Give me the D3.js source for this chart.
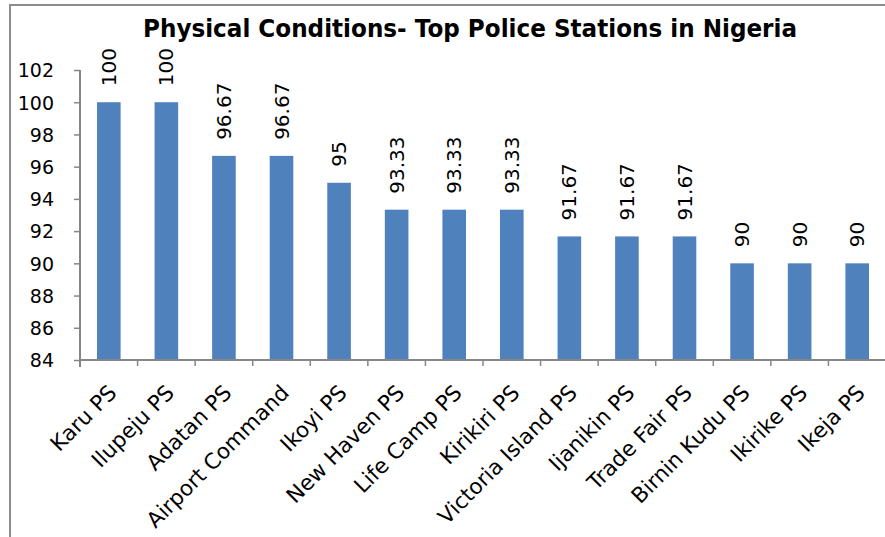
<!DOCTYPE html>
<html><head><meta charset="utf-8">
<script src="https://cdn.jsdelivr.net/npm/d3@7"></script>
<style>body{margin:0;background:#fff}svg{display:block}text{font-family:"DejaVu Sans",sans-serif;fill:#000}</style>
</head><body>
<svg id="c" width="885" height="537"></svg>
<script>
const categories = ["Karu PS","Ilupeju PS","Adatan PS","Airport Command","Ikoyi PS","New Haven PS","Life Camp PS","Kirikiri PS","Victoria Island PS","Ijanikin PS","Trade Fair PS","Birnin Kudu PS","Ikirike PS","Ikeja PS"];
const values = [100,100,96.67,96.67,95,93.33,93.33,93.33,91.67,91.67,91.67,90,90,90];
const valueLabels = ["100","100","96.67","96.67","95","93.33","93.33","93.33","91.67","91.67","91.67","90","90","90"];
const yTicks = [84,86,88,90,92,94,96,98,100,102];
const title = "Physical Conditions- Top Police Stations in Nigeria";

const svg = d3.select("#c");
svg.append("rect").attr("x",10).attr("y",5).attr("width",900).attr("height",600)
  .attr("fill","none").attr("stroke","#8c8c8c").attr("stroke-width",2);

const x = d3.scaleBand().domain(categories).range([80,886]).paddingInner(0.59).paddingOuter(0.295);
const y = d3.scaleLinear().domain([84,102]).range([360,70]);

svg.append("text").attr("x",470).attr("y",37).attr("text-anchor","middle")
  .attr("font-family","Lato").attr("font-size",25).attr("font-weight","bold")
  .attr("textLength",654).attr("lengthAdjust","spacingAndGlyphs").text(title);

// bars
svg.selectAll("rect.bar").data(values).join("rect").attr("class","bar")
  .attr("x",(d,i)=>x(categories[i])).attr("width",x.bandwidth())
  .attr("y",d=>y(d)).attr("height",d=>y(84)-y(d)).attr("fill","#4F81BD");

// y axis
const yAxis = d3.axisLeft(y).tickValues(yTicks).tickSize(6).tickPadding(20).tickSizeOuter(0);
const gy = svg.append("g").attr("transform","translate(80,0)").call(yAxis);
gy.select(".domain").attr("stroke","#868686").attr("stroke-width",2).attr("d","M0,70V367");
gy.selectAll(".tick line").attr("stroke","#868686").attr("stroke-width",1.5);
gy.selectAll(".tick text").attr("font-size",19).attr("font-family","DejaVu Sans").attr("fill","#000").attr("dy","0.36em");

// x axis
const xLine = d3.scaleLinear().domain([0,categories.length]).range([80,886]);
svg.append("line").attr("x1",80).attr("x2",886).attr("y1",360).attr("y2",360).attr("stroke","#868686").attr("stroke-width",2);
svg.selectAll("line.xt").data(d3.range(1,categories.length+1)).join("line").attr("class","xt")
  .attr("x1",d=>xLine(d)).attr("x2",d=>xLine(d)).attr("y1",360).attr("y2",366)
  .attr("stroke","#868686").attr("stroke-width",1.5);

svg.selectAll("text.xl").data(categories).join("text").attr("class","xl")
  .attr("transform",d=>`translate(${x(d)+x.bandwidth()/2+9},${394}) rotate(-45)`)
  .attr("text-anchor","end").attr("font-size",21.5).text(d=>d);

// value labels
svg.selectAll("text.vl").data(values).join("text").attr("class","vl")
  .attr("transform",(d,i)=>`translate(${x(categories[i])+x.bandwidth()/2+7},${y(d)-16}) rotate(-90)`)
  .attr("text-anchor","start").attr("font-size",20).text((d,i)=>valueLabels[i]);
</script>
</body></html>
